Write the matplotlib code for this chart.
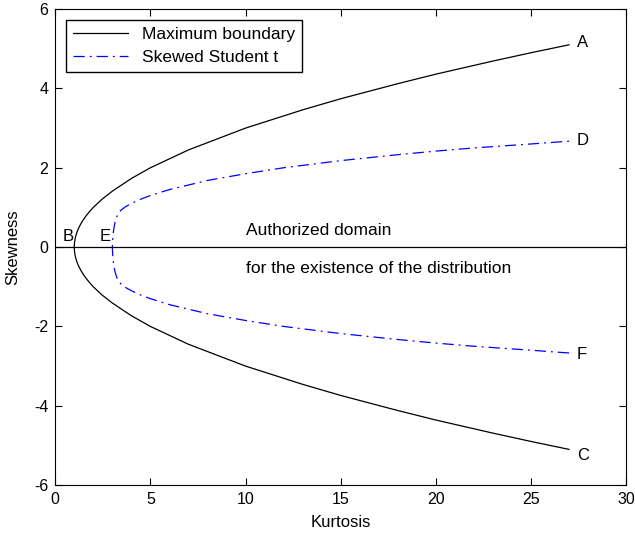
import numpy as np
import matplotlib.pyplot as plt

plt.rcParams['font.family'] = ['Liberation Sans', 'DejaVu Sans']
plt.rcParams['axes.unicode_minus'] = False

# maximum boundary (upper half)
max_kurt = [1.0, 1.01, 1.04, 1.09, 1.16, 1.25, 1.36, 1.49, 1.64, 1.81, 2.0, 2.44, 3.0, 4.0,
            5.0, 7.0, 10.0, 13.0, 15.0, 18.0, 20.0, 23.0, 25.0, 27.0]
max_skew = [0.0, 0.1, 0.2, 0.3, 0.4, 0.5, 0.6, 0.7, 0.8, 0.9, 1.0, 1.2, 1.41, 1.73,
            2.0, 2.45, 3.0, 3.46, 3.74, 4.12, 4.36, 4.69, 4.9, 5.1]

# skewed student t boundary (upper half)
sst_kurt = [3.0, 3.02, 3.06, 3.12, 3.2, 3.3, 3.45, 3.7, 4.0, 4.5, 5.0, 6.0, 8.0, 10.0,
            12.0, 15.0, 18.0, 20.0, 22.0, 25.0, 27.0]
sst_skew = [0.0, 0.2, 0.4, 0.58, 0.72, 0.84, 0.93, 1.02, 1.1, 1.21, 1.3, 1.45, 1.68, 1.85,
            2.0, 2.18, 2.33, 2.42, 2.5, 2.6, 2.67]

point_labels = ['A', 'B', 'C', 'D', 'E', 'F']
point_x = [27.4, 0.4, 27.4, 27.4, 2.35, 27.4]
point_y = [5.17, 0.27, -5.25, 2.7, 0.27, -2.7]


def mirror(k, s):
    k = np.asarray(k)
    s = np.asarray(s)
    return np.concatenate([k[::-1], k[1:]]), np.concatenate([-s[::-1], s[1:]])


fig = plt.figure(figsize=(6.35, 5.36), dpi=100)
ax = fig.add_axes([0.087, 0.095, 0.899, 0.888])

mk, ms = mirror(max_kurt, max_skew)
sk, ss = mirror(sst_kurt, sst_skew)
ax.plot(mk, ms, color='black', lw=0.9, label='Maximum boundary')
ax.plot(sk, ss, color='blue', lw=0.9, dashes=[9, 4, 1.5, 4], label='Skewed Student t')
ax.axhline(0, color='black', lw=0.9)

for lab, x, y in zip(point_labels, point_x, point_y):
    ax.text(x, y, lab, fontsize=12, ha='left', va='center')

ax.text(10, 0.42, 'Authorized domain', fontsize=12.5, va='center')
ax.text(10, -0.55, 'for the existence of the distribution', fontsize=12.5, va='center')

ax.set_xlim(0, 30)
ax.set_ylim(-6, 6)
ax.set_xticks(range(0, 31, 5))
ax.set_yticks(range(-6, 7, 2))
ax.tick_params(direction='in', top=True, right=True, labelsize=11.5, length=5, pad=5)
ax.set_xlabel('Kurtosis', fontsize=12, labelpad=6)
ax.set_ylabel('Skewness', fontsize=12, labelpad=10)

leg = ax.legend(loc='upper left', fontsize=12.5, fancybox=False, framealpha=1,
                edgecolor='black', handlelength=3.2, borderaxespad=0.6)
leg.get_frame().set_linewidth(1.0)

fig.savefig('out.png', dpi=100)
